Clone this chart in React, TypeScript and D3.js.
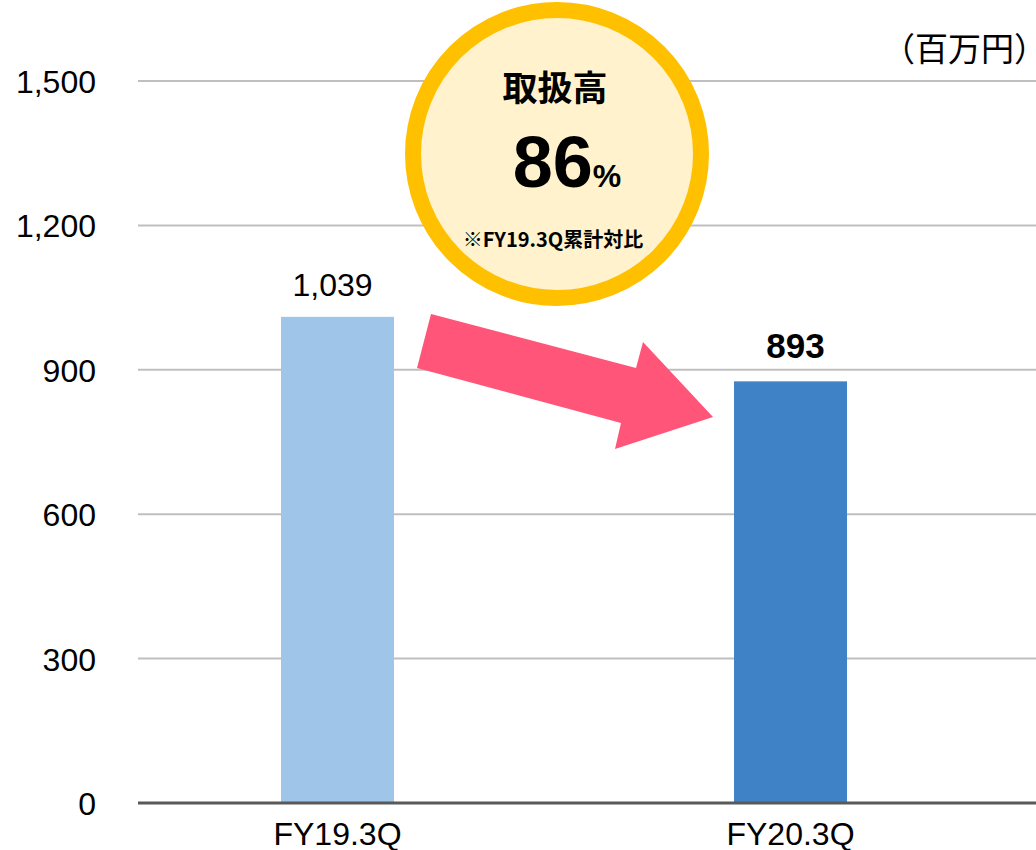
import React from 'react';
import * as d3 from 'd3';

// values as drawn (bar heights) and the labels printed above them
const categories = ['FY19.3Q', 'FY20.3Q'];
const barValues = [1010, 876];
const barLabels = ['1,039', '893'];
const barColors = ['#9FC5E8', '#3F83C6'];
const yTicks = [0, 300, 600, 900, 1200, 1500];

const W = 1036;
const H = 850;
const LATIN = '"Liberation Sans", Arial, sans-serif';
const CJK = '"Noto Sans CJK JP", sans-serif';

const App = () => {
  const x = d3.scaleBand<string>()
    .domain(categories)
    .range([138, 990])
    .paddingInner(0.7506)
    .paddingOuter(0.3157);

  const y = d3.scaleLinear().domain([0, 1500]).range([803, 81]);
  const fmt = d3.format(',');

  // arrow annotation, drawn between the two bars
  const arrow = [
    [431, 314], [636, 368], [643, 342], [713, 417],
    [615, 449], [621, 423], [417, 368],
  ];

  return (
    <svg width={W} height={H} style={{ position: 'absolute', left: 0, top: 0, background: '#fff' }}>
      {/* gridlines */}
      {yTicks.filter(t => t > 0).map(t => (
        <line key={t} x1={138} x2={W} y1={y(t)} y2={y(t)} stroke="#BFBFBF" strokeWidth={2} />
      ))}
      {/* y tick labels */}
      {yTicks.map(t => (
        <text key={'l' + t} x={96} y={y(t) + 12} textAnchor="end"
          fontFamily={LATIN} fontSize={32} fill="#000">{fmt(t)}</text>
      ))}

      {/* bars */}
      {categories.map((c, i) => (
        <rect key={c} x={x(c)} y={y(barValues[i])} width={x.bandwidth()}
          height={y(0) - y(barValues[i])} fill={barColors[i]} />
      ))}
      <line x1={138} x2={W} y1={y(0)} y2={y(0)} stroke="#595959" strokeWidth={3} />

      {/* value labels */}
      {categories.map((c, i) => (
        <text key={'v' + c} x={x(c)! + x.bandwidth() / 2 + (i === 0 ? -5 : 5)}
          y={y(barValues[i]) - (i === 0 ? 21 : 23)} textAnchor="middle"
          fontFamily={LATIN} fontSize={i === 0 ? 32 : 35} fontWeight={i === 0 ? 400 : 700}
          fill="#000">{barLabels[i]}</text>
      ))}

      {/* category labels */}
      {categories.map(c => (
        <text key={'c' + c} x={x(c)! + x.bandwidth() / 2} y={845} textAnchor="middle"
          fontFamily={LATIN} fontSize={32} fill="#000">{c}</text>
      ))}

      {/* unit */}
      <text x={882} y={61} fontFamily={CJK} fontSize={33} fill="#000">（百万円）</text>

      {/* arrow */}
      <polygon points={arrow.map(p => p.join(',')).join(' ')} fill="#FF5579" />

      {/* badge */}
      <circle cx={557} cy={154} r={144} fill="#FFF2CC" stroke="#FFC000" strokeWidth={16} />
      <text x={555} y={101} textAnchor="middle" fontFamily={CJK} fontSize={35} fontWeight={700} fill="#000">取扱高</text>
      <text x={567} y={187} textAnchor="middle" fontFamily={LATIN} fontSize={72} fontWeight={700} fill="#000">
        86<tspan fontSize={32}>%</tspan>
      </text>
      <text x={553} y={247} textAnchor="middle" fontFamily={CJK} fontSize={20} fontWeight={700} fill="#000">※FY19.3Q累計対比</text>
    </svg>
  );
};

export default App;
